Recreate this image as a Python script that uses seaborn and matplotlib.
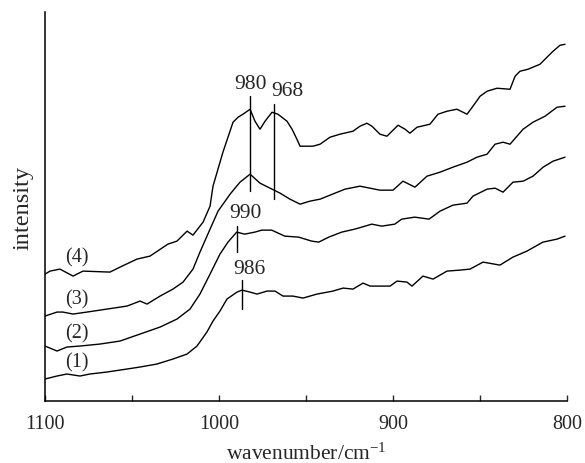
import matplotlib
matplotlib.use("Agg")
import matplotlib.pyplot as plt
import seaborn as sns
import pandas as pd

# ---- data (wavenumber in cm^-1, intensity in arbitrary units) ----
wn1 = [1100, 1093.1, 1087.4, 1079.9, 1074.2, 1064.4, 1052.9, 1045.4, 1035.7, 1026.5,
       1018.4, 1012.7, 1007.0, 1003.5, 999.5, 995.5, 989.7, 986.8, 982.3, 978.2,
       972.5, 967.9, 963.3, 957.6, 951.8, 943.8, 934.6, 928.8, 923.1, 917.3,
       913.3, 901.8, 897.8, 892.1, 889.2, 882.9, 877.1, 869.1, 861.6, 855.9,
       848.4, 838.7, 831.2, 823.2, 814.0, 805.9, 801.3]
in1 = [22, 25, 27, 25, 27, 29, 32, 34, 37, 42,
       47, 55, 69, 80, 90, 102, 109, 111, 109, 107,
       110, 110, 105, 105, 103, 107, 110, 113, 112, 118,
       115, 115, 120, 119, 115, 125, 122, 130, 131, 132,
       139, 136, 144, 150, 159, 162, 165]

wn2 = [1100, 1093.1, 1087.4, 1079.9, 1068.4, 1056.9, 1045.4, 1033.9, 1024.2, 1016.7,
       1011.0, 1005.2, 999.5, 994.9, 989.9, 985.3, 979.5, 975.5, 969.8, 962.3,
       954.3, 946.8, 942.8, 937.0, 929.6, 922.1, 918.1, 912.3, 906.6, 899.1,
       895.1, 887.6, 879.4, 873.1, 865.7, 857.6, 854.2, 846.1, 841.5, 836.9,
       831.2, 825.4, 819.7, 813.9, 808.2, 801.3]
in2 = [55, 50, 54, 55, 57, 60, 67, 74, 82, 92,
       107, 127, 147, 159, 169, 167, 169, 171, 171, 165,
       164, 160, 159, 164, 169, 172, 174, 177, 175, 177,
       182, 184, 182, 190, 196, 198, 205, 212, 213, 209,
       219, 220, 225, 234, 240, 244]

wn3 = [1100, 1093.1, 1089.7, 1083.9, 1075.9, 1064.4, 1052.9, 1045.4, 1041.4, 1033.9,
       1026.5, 1020.7, 1015.0, 1011.0, 1005.2, 1000.6, 993.7, 988.0, 982.2, 976.5,
       969.6, 965.0, 959.3, 953.5, 947.8, 942.0, 936.3, 927.7, 919.1, 907.6,
       900.1, 894.4, 887.5, 880.6, 873.1, 865.7, 857.6, 851.9, 846.1, 841.5,
       836.9, 832.9, 825.4, 819.7, 812.8, 805.9, 801.3]
in3 = [85, 89, 89, 87, 89, 92, 95, 100, 97, 105,
       112, 119, 132, 149, 172, 190, 207, 219, 227, 218,
       212, 208, 202, 197, 200, 202, 206, 212, 215, 211,
       211, 220, 214, 225, 229, 234, 239, 244, 247, 257,
       259, 257, 272, 279, 285, 294, 295]

wn4 = [1100, 1097.1, 1091.4, 1083.9, 1078.2, 1062.7, 1056.9, 1047.2, 1039.7, 1029.4,
       1024.2, 1018.4, 1015.0, 1009.2, 1005.2, 1003.5, 997.8, 992.0, 989.1, 986.3,
       982.2, 979.4, 976.5, 973.6, 969.6, 966.2, 961.0, 958.1, 955.3, 953.5,
       946.1, 942.0, 936.3, 930.6, 923.1, 919.1, 915.1, 912.2, 907.6, 903.6,
       897.2, 893.2, 890.4, 886.3, 878.9, 874.3, 869.1, 863.4, 857.6, 854.2,
       850.1, 846.1, 840.4, 832.9, 830.0, 827.2, 822.6, 815.7, 811.7, 808.2,
       804.2, 801.3]
in4 = [127, 130, 132, 125, 130, 129, 134, 142, 145, 157,
       160, 170, 166, 179, 195, 215, 249, 279, 284, 287,
       292, 280, 272, 280, 289, 287, 280, 272, 262, 255,
       255, 257, 264, 267, 270, 275, 278, 275, 267, 265,
       276, 272, 268, 274, 277, 287, 290, 292, 287, 295,
       305, 310, 313, 312, 325, 330, 332, 337, 344, 350,
       356, 357]

curve_names = ["(1)", "(2)", "(3)", "(4)"]
curve_label_y = [39, 68, 102, 144]
curve_label_x = 1081.6

peak_labels = ["980", "968", "990", "986"]
peak_pos = [982.2, 968.5, 989.9, 987.0]
peak_line_lo = [210, 202, 149, 92]
peak_line_hi = [305, 297, 175, 121]
peak_text_x = [982.2, 961.0, 985.1, 982.8]
peak_text_y = [318, 311, 189, 133]

x_major = [1100, 1000, 900, 800]
x_minor = [1050, 950, 850]

# ---- build table ----
frames = []
for name, w, v in zip(curve_names, [wn1, wn2, wn3, wn4], [in1, in2, in3, in4]):
    frames.append(pd.DataFrame({"wavenumber": w, "intensity": v, "curve": name}))
df = pd.concat(frames, ignore_index=True)

sns.set_style("ticks")
plt.rcParams["font.family"] = ["Liberation Serif", "DejaVu Serif"]
plt.rcParams["mathtext.fontset"] = "custom"
plt.rcParams["mathtext.rm"] = "Liberation Serif"
plt.rcParams["mathtext.it"] = "Liberation Serif:italic"

fig = plt.figure(figsize=(5.85, 4.64), dpi=100)
ax = fig.add_axes([45 / 585, 62 / 464, 522.3 / 585, 388.7 / 464])

sns.lineplot(data=df, x="wavenumber", y="intensity", hue="curve",
             palette=["black"] * 4, estimator=None, sort=False,
             linewidth=1.0, legend=False, ax=ax)

for name, yy in zip(curve_names, curve_label_y):
    ax.text(curve_label_x, yy, name, ha="center", va="center", fontsize=14.5)

for lab, p, lo, hi, tx, ty in zip(peak_labels, peak_pos, peak_line_lo,
                                   peak_line_hi, peak_text_x, peak_text_y):
    ax.plot([p, p], [lo, hi], color="black", linewidth=1.0)
    ax.text(tx, ty, lab, ha="center", va="center", fontsize=15.5)

ax.set_xlim(1100, 800)
ax.set_ylim(0, 389)
ax.set_xticks(x_major)
ax.set_xticklabels([str(t) for t in x_major])
ax.set_xticks(x_minor, minor=True)
ax.set_yticks([])
ax.tick_params(axis="x", which="both", direction="in", length=4.5, width=1.0,
               labelsize=14.5, pad=9.5)
for s in ["top", "right"]:
    ax.spines[s].set_visible(False)
for s in ["left", "bottom"]:
    ax.spines[s].set_linewidth(1.1)
    ax.spines[s].set_color("black")

ax.set_xlabel("wavenumber/cm$^{-1}$", fontsize=15.5, labelpad=7)
ax.set_ylabel("intensity", fontsize=17.5, labelpad=8)

fig.savefig("out.png", dpi=100)
